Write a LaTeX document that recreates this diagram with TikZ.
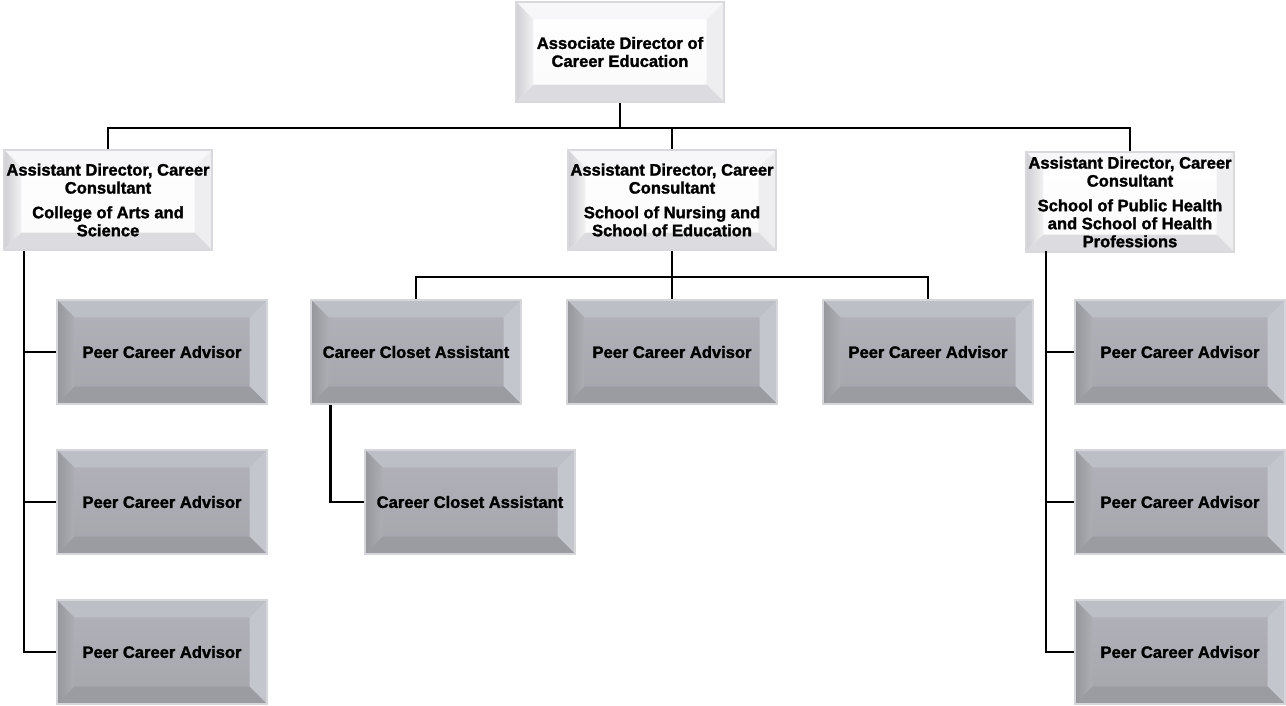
\documentclass[tikz,border=0pt]{standalone}
\usepackage{fontspec}
\setmainfont{Liberation Sans}[BoldFeatures={FakeBold=1.6}]
\usetikzlibrary{calc}
\definecolor{gface1}{HTML}{B2B3BA}
\definecolor{gface2}{HTML}{A5A6AC}
\definecolor{gtop}{HTML}{BDBFC7}
\definecolor{gleftout}{HTML}{96979C}
\definecolor{gleftin}{HTML}{ADAEB4}
\definecolor{gright}{HTML}{C4C6CD}
\definecolor{gbot}{HTML}{9B9CA2}
\definecolor{gborder}{HTML}{D5D6DA}
\definecolor{wtop}{HTML}{F7F7F9}
\definecolor{wleftout}{HTML}{CFCFD4}
\definecolor{wleftin}{HTML}{F2F2F4}
\definecolor{wright}{HTML}{EEEEF1}
\definecolor{wbot}{HTML}{DCDCE0}
\definecolor{wborder}{HTML}{D9D9DD}
\newlength\bv
\setlength\bv{13pt}
\newcommand\bevelfacets[5]{%
  \path (path picture bounding box.south west) coordinate (bsw)
        (path picture bounding box.north east) coordinate (bne)
        (path picture bounding box.north west) coordinate (bnw)
        (path picture bounding box.south east) coordinate (bse);
  \fill[#1] (bnw) -- (bne) -- ([shift={(-\bv,-\bv)}]bne) -- ([shift={(\bv,-\bv)}]bnw) -- cycle;
  \shade[left color=#2, right color=#3] (bnw) -- ([shift={(\bv,-\bv)}]bnw) -- ([shift={(\bv,\bv)}]bsw) -- (bsw) -- cycle;
  \fill[#4] (bne) -- (bse) -- ([shift={(-\bv,\bv)}]bse) -- ([shift={(-\bv,-\bv)}]bne) -- cycle;
  \fill[#5] (bsw) -- ([shift={(\bv,\bv)}]bsw) -- ([shift={(-\bv,\bv)}]bse) -- (bse) -- cycle;
}
\newcommand\ctr[1]{\makebox[0pt]{#1}}
\tikzset{
  boxtext/.style={font=\fontsize{12.4pt}{13.5pt}\selectfont\bfseries, align=center, inner sep=0pt, text=black},
  graybox/.style={boxtext, minimum width=157.5pt, minimum height=78pt,
    top color=gface1, bottom color=gface2, draw=gborder, line width=1.3pt,
    path picture={\bevelfacets{gtop}{gleftout}{gleftin}{gright}{gbot}}},
  whitebox/.style={boxtext, minimum width=156pt, minimum height=75pt,
    top color=white, bottom color=white!96!gray, draw=wborder, line width=1.3pt,
    path picture={\bevelfacets{wtop}{wleftout}{wleftin}{wright}{wbot}}},
  conn/.style={draw=black, line width=2.2pt}
}
\begin{document}
\begin{tikzpicture}[x=0.75pt, y=-0.75pt]
\useasboundingbox (0,0) rectangle (1286,706);
% level 0
\node[whitebox] (top) at (620,52) {\ctr{Associate Director of}\\\ctr{Career Education}};
% level 1
\node[whitebox] (ad1) at (108,200) {\ctr{Assistant Director, Career}\\\ctr{Consultant}\\[5pt]\ctr{College of Arts and}\\\ctr{Science}};
\node[whitebox] (ad2) at (672,200) {\ctr{Assistant Director, Career}\\\ctr{Consultant}\\[5pt]\ctr{School of Nursing and}\\\ctr{School of Education}};
\node[whitebox] (ad3) at (1130,202) {\ctr{Assistant Director, Career}\\\ctr{Consultant}\\[5pt]\ctr{School of Public Health}\\\ctr{and School of Health}\\\ctr{Professions}};
% left column
\node[graybox] (p1) at (162,352) {Peer Career Advisor};
\node[graybox] (p2) at (162,502) {Peer Career Advisor};
\node[graybox] (p3) at (162,652) {Peer Career Advisor};
% middle
\node[graybox] (cc) at (416,352) {Career Closet Assistant};
\node[graybox] (m1) at (672,352) {Peer Career Advisor};
\node[graybox] (m2) at (928,352) {Peer Career Advisor};
\node[graybox] (cc2) at (470,502) {Career Closet Assistant};
% right column
\node[graybox] (r1) at (1180,352) {Peer Career Advisor};
\node[graybox] (r2) at (1180,502) {Peer Career Advisor};
\node[graybox] (r3) at (1180,652) {Peer Career Advisor};
% coordinates
\coordinate (bus) at (0,128);
\coordinate (bus2) at (0,277);
\coordinate (spineL) at (24,251);
\coordinate (spineR) at (1046,251);
% connectors
\draw[conn] (top.south) -- (top.south |- bus) -| (ad1.north);
\draw[conn] (top.south |- bus) -| (ad2.north);
\draw[conn] (top.south |- bus) -| (ad3.north);
\draw[conn] (spineL) |- (p1.west);
\draw[conn] (spineL) |- (p2.west);
\draw[conn] (spineL) |- (p3.west);
\draw[conn] (ad2.south) -- (ad2.south |- bus2) -| (cc.north);
\draw[conn] (ad2.south |- bus2) -- (m1.north);
\draw[conn] (ad2.south |- bus2) -| (m2.north);
\draw[conn] ([xshift=15pt]cc.south west) |- (cc2.west);
\draw[conn] (spineR) |- (r1.west);
\draw[conn] (spineR) |- (r2.west);
\draw[conn] (spineR) |- (r3.west);
\end{tikzpicture}
\end{document}
